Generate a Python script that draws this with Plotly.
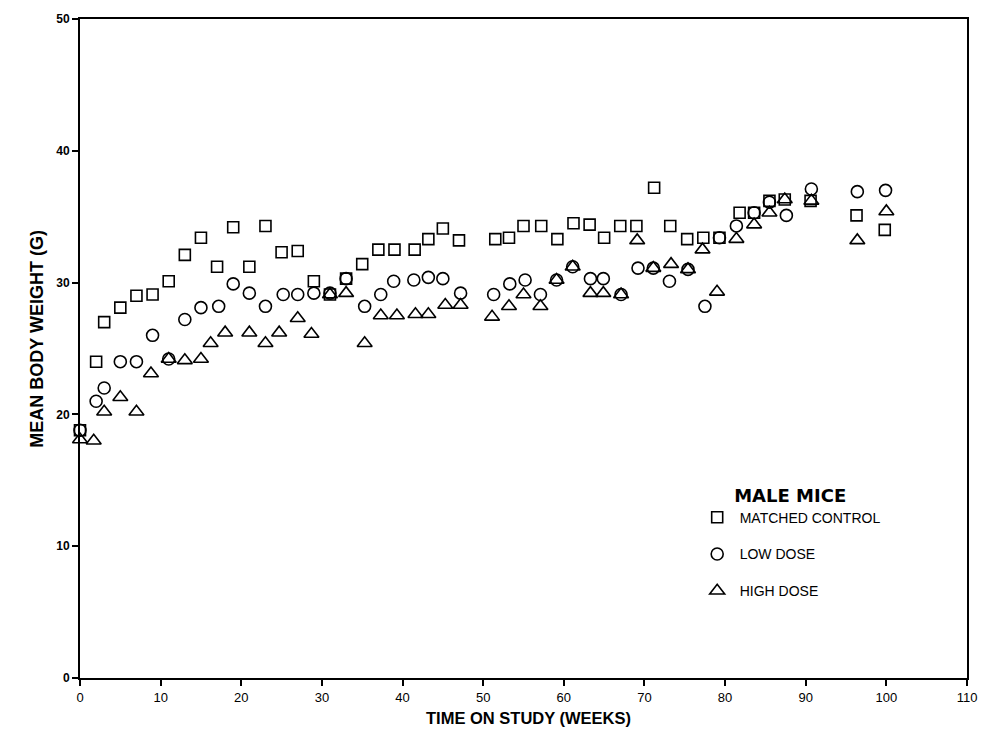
import plotly.graph_objects as go

# ---- data ----
control_weeks = [0, 2, 3, 5, 7, 9, 11, 13, 15, 17, 19, 21, 23, 25, 27, 29, 31, 33, 35, 37,
                 39, 41.5, 43.2, 45, 47, 51.5, 53.2, 55, 57.2, 59.2, 61.2, 63.2, 65, 67, 69,
                 71.2, 73.2, 75.3, 77.3, 79.3, 81.8, 83.6, 85.5, 87.4, 90.6, 96.3, 99.8]
control_weight = [18.8, 24.0, 27.0, 28.1, 29.0, 29.1, 30.1, 32.1, 33.4, 31.2, 34.2, 31.2, 34.3,
                  32.3, 32.4, 30.1, 29.1, 30.3, 31.4, 32.5, 32.5, 32.5, 33.3, 34.1, 33.2,
                  33.3, 33.4, 34.3, 34.3, 33.3, 34.5, 34.4, 33.4, 34.3, 34.3, 37.2, 34.3,
                  33.3, 33.4, 33.4, 35.3, 35.3, 36.2, 36.3, 36.2, 35.1, 34.0]

low_weeks = [0, 2, 3, 5, 7, 9, 11, 13, 15, 17.2, 19, 21, 23, 25.2, 27, 29, 31, 33, 35.3, 37.3,
             38.9, 41.4, 43.2, 45, 47.2, 51.3, 53.3, 55.2, 57.1, 59.1, 61.1, 63.3, 64.9, 67.1,
             69.2, 71.1, 73.1, 75.4, 77.5, 79.3, 81.4, 83.6, 85.5, 87.6, 90.7, 96.4, 99.9]
low_weight = [18.8, 21.0, 22.0, 24.0, 24.0, 26.0, 24.2, 27.2, 28.1, 28.2, 29.9, 29.2, 28.2,
              29.1, 29.1, 29.2, 29.2, 30.3, 28.2, 29.1, 30.1, 30.2, 30.4, 30.3, 29.2, 29.1,
              29.9, 30.2, 29.1, 30.2, 31.2, 30.3, 30.3, 29.1, 31.1, 31.1, 30.1, 31.0, 28.2,
              33.4, 34.3, 35.3, 36.1, 35.1, 37.1, 36.9, 37.0]

high_weeks = [0, 1.7, 3, 5, 7, 8.8, 11, 13, 15, 16.2, 18, 21, 23, 24.7, 27, 28.7, 31, 33,
              35.3, 37.3, 39.3, 41.6, 43.2, 45.3, 47.2, 51.1, 53.2, 55, 57.1, 59.1, 61.1,
              63.3, 64.9, 67.1, 69.1, 71.1, 73.3, 75.4, 77.2, 79, 81.4, 83.6, 85.5, 87.4,
              90.7, 96.4, 100]
high_weight = [18.1, 18.0, 20.2, 21.3, 20.2, 23.1, 24.2, 24.1, 24.2, 25.4, 26.2, 26.2, 25.4,
               26.2, 27.3, 26.1, 29.1, 29.2, 25.4, 27.5, 27.5, 27.6, 27.6, 28.3, 28.3, 27.4,
               28.2, 29.1, 28.2, 30.2, 31.2, 29.2, 29.2, 29.1, 33.2, 31.1, 31.4, 31.0, 32.5,
               29.3, 33.3, 34.4, 35.3, 36.3, 36.2, 33.2, 35.4]

series_names = ["MATCHED CONTROL", "LOW DOSE", "HIGH DOSE"]
legend_title = "MALE MICE"
x_title = "TIME ON STUDY (WEEKS)"
y_title = "MEAN BODY WEIGHT (G)"
x_ticks = list(range(0, 111, 10))
y_ticks = list(range(0, 51, 10))

fig = go.Figure()
specs = [
    (control_weeks, control_weight, series_names[0], "square-open", 11),
    (low_weeks, low_weight, series_names[1], "circle-open", 12),
    (high_weeks, high_weight, series_names[2], "triangle-up-open", 13),
]
for i, (xs, ys, name, sym, sz) in enumerate(specs):
    fig.add_trace(go.Scatter(
        x=xs, y=ys, mode="markers", name=name, legendgroup=f"g{i}",
        cliponaxis=False,
        marker=dict(symbol=sym, size=sz, color="black", line=dict(width=1.6, color="black")),
    ))

axis_common = dict(showline=True, linecolor="black", linewidth=2, mirror=True,
                   ticks="outside", ticklen=6, tickwidth=1.5, tickcolor="black",
                   showgrid=False, zeroline=False)

fig.update_layout(
    width=989, height=743,
    margin=dict(l=80, r=21, t=13, b=65),
    paper_bgcolor="white", plot_bgcolor="white",
    font=dict(family="Liberation Sans, Arial, sans-serif", color="black"),
    xaxis=dict(range=[0, 110], tickvals=x_ticks,
               tickfont=dict(family="Liberation Sans, Arial", size=13),
               **axis_common),
    yaxis=dict(range=[0, 50], tickvals=y_ticks,
               tickfont=dict(family="Liberation Sans, Arial", size=12, weight="bold"),
               **axis_common),
    annotations=[
        dict(text=x_title, xref="paper", yref="paper", x=0.5056, y=-0.060,
             xanchor="center", yanchor="middle", showarrow=False,
             font=dict(family="Liberation Sans, Arial", size=16.5, weight="bold")),
        dict(text=y_title, xref="paper", yref="paper", x=-0.0484, y=0.515,
             xanchor="center", yanchor="middle", showarrow=False, textangle=-90,
             font=dict(family="Liberation Sans, Arial", size=18, weight="bold")),
    ],
    showlegend=True,
    legend=dict(
        x=0.693, y=0.303, xanchor="left", yanchor="top",
        bgcolor="rgba(0,0,0,0)", borderwidth=0, itemwidth=35,
        traceorder="grouped", tracegroupgap=15.5,
        font=dict(size=14, family="Liberation Sans, Arial"),
        title=dict(text=legend_title, side="top center",
                   font=dict(size=18, weight="bold", family="DejaVu Sans, Liberation Sans")),
    ),
)

fig.write_html("out.html", config={"displayModeBar": False},
               post_script="document.body.style.margin='0';")
